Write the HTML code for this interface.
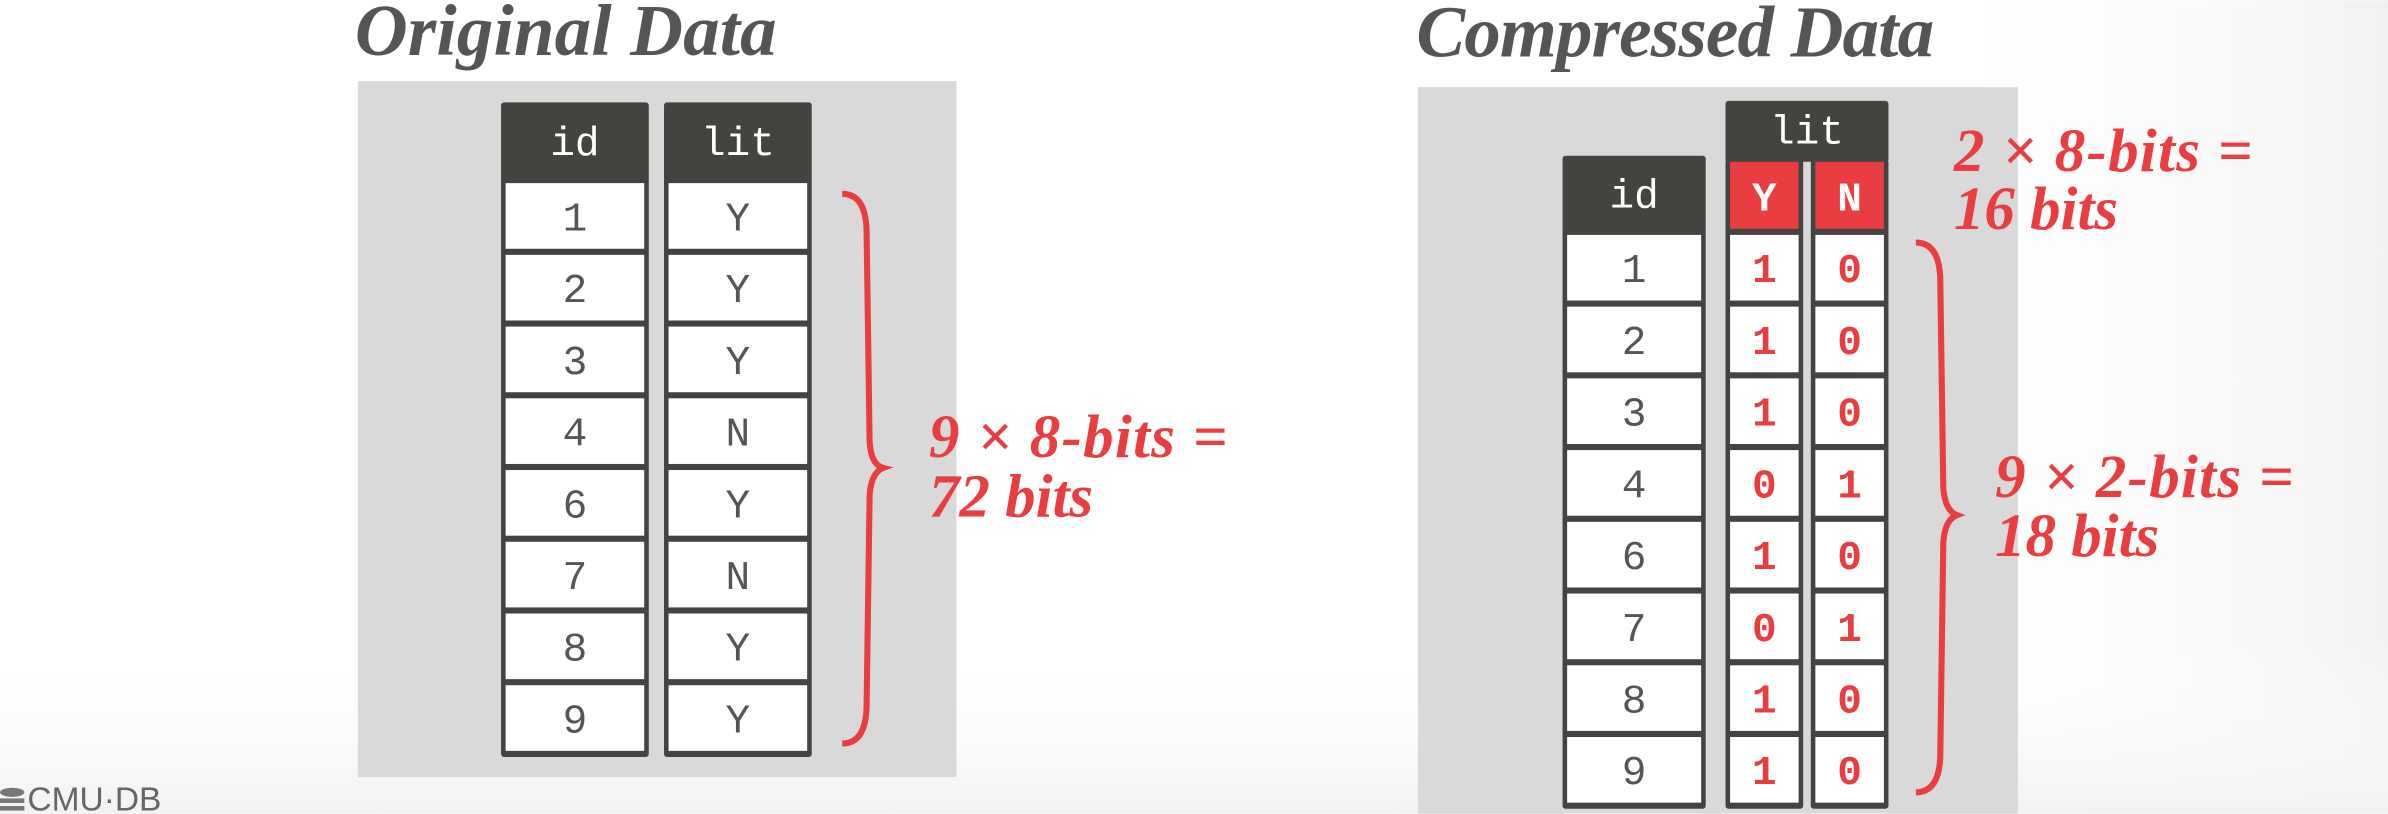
<!DOCTYPE html>
<html><head><meta charset="utf-8"><style>
html,body{margin:0;padding:0;background:#fff;overflow:hidden}
svg{display:block}
.mono{font-family:"Liberation Mono","DejaVu Sans Mono",monospace}
.ser{font-family:"Liberation Serif",serif;font-style:italic;font-weight:bold}
</style></head><body>
<svg id="s" width="2388" height="814" viewBox="0 0 1568 534" xmlns="http://www.w3.org/2000/svg">
<defs>
<linearGradient id="gr" x1="0" x2="1" y1="0" y2="0"><stop offset="0" stop-color="#fff" stop-opacity="0"/><stop offset="1" stop-color="#f1f1f1"/></linearGradient>
<linearGradient id="gb" x1="0" x2="0" y1="0" y2="1"><stop offset="0" stop-color="#fff" stop-opacity="0"/><stop offset="1" stop-color="#f2f2f2"/></linearGradient>
</defs>
<rect width="1568" height="534" fill="#fff"/>
<rect x="1250" y="0" width="318" height="534" fill="url(#gr)"/>
<rect x="0" y="420" width="1568" height="114" fill="url(#gb)"/>
<text class="ser" x="233" y="36" font-size="48" fill="#555" textLength="277">Original Data</text>
<text class="ser" x="930" y="37" font-size="48" fill="#555" textLength="340">Compressed Data</text>
<rect x="235" y="53" width="393" height="457" fill="#d9d9d9"/>
<rect x="931" y="57" width="394" height="477" fill="#d9d9d9"/>
<g id="g"></g>
<path d="M553,127 Q568,127 569,150 L571,290 Q572,305 580,307 Q572,310 571,325 L569,465 Q568,488 553,488" fill="none" stroke="#e83e42" stroke-width="4"/>
<path d="M1258,159 Q1273,159 1274,182 L1276,320 Q1277,335 1285,338 Q1277,341 1276,356 L1274,497 Q1273,520 1258,520" fill="none" stroke="#e83e42" stroke-width="4"/>
<text class="ser" font-size="40" fill="#e83e42"><tspan x="610" y="300" textLength="196">9 × 8-bits =</tspan><tspan x="610" y="339">72 bits</tspan></text>
<text class="ser" font-size="40" fill="#e83e42"><tspan x="1283" y="112" textLength="196">2 × 8-bits =</tspan><tspan x="1283" y="150">16 bits</tspan></text>
<text class="ser" font-size="40" fill="#e83e42"><tspan x="1310" y="326" textLength="196">9 × 2-bits =</tspan><tspan x="1310" y="365">18 bits</tspan></text>
<text x="18" y="532" font-family="Liberation Sans,sans-serif" font-size="22" fill="#666">CMU·DB</text>
<g fill="#777"><ellipse cx="8" cy="520" rx="8" ry="3"/><rect x="0" y="524" width="16" height="3"/><rect x="0" y="529" width="16" height="3"/></g>
</svg>
<script>
var ids=["1","2","3","4","6","7","8","9"];
var lits=["Y","Y","Y","N","Y","N","Y","Y"];
var yBits=["1","1","1","0","1","0","1","1"];
var nBits=["0","0","0","1","0","1","0","0"];
var g=document.getElementById('g');var NS="http://www.w3.org/2000/svg";
function mk(t,a){var e=document.createElementNS(NS,t);for(var k in a)e.setAttribute(k,a[k]);g.appendChild(e);return e;}
function txt(x,y,s,fill,size,bold){var t=mk('text',{x:x,y:y,'text-anchor':'middle','class':'mono','font-size':size,fill:fill,'font-weight':bold?'bold':'normal'});t.textContent=s;return t;}
function column(x,w,top,hdrH,rowTop,vals,color,name,hdrText,bold){
 var bg=mk('rect',{x:x,y:top,width:w,height:rowTop-top+vals.length*47.1+2,fill:'#45433f',rx:2});
 
 
 if(hdrText){var h=txt(x+w/2,top+hdrH/2+9,hdrText,'#fff',27,false);
 
 }
 for(var i=0;i<vals.length;i++){var y=rowTop+i*47.1;
  var r=mk('rect',{x:x+3,y:y+2,width:w-6,height:43.1,fill:'#fff'});
  
  
  var t=txt(x+w/2,y+33,vals[i],color,27,bold);
  
  }
}
column(329,97,67,51,118,ids,'#555','orig-id','id',false);
column(436,97,67,51,118,lits,'#555','orig-lit','lit',false);
column(1026,94,102,50,152,ids,'#555','comp-id','id',false);
var lh=mk('rect',{x:1133,y:66,width:107,height:40,fill:'#45433f',rx:2});


var lt=txt(1186.5,94,'lit','#fff',27,false);


column(1133,51,104,48,152,yBits,'#e83e42','bitmap-y',null,true);
column(1189,51,104,48,152,nBits,'#e83e42','bitmap-n',null,true);
var yh=mk('rect',{x:1136,y:106,width:45,height:44,fill:'#e83e42'});


var nh=mk('rect',{x:1192,y:106,width:45,height:44,fill:'#e83e42'});


var yt=txt(1158.5,138,'Y','#fff',27,true);


var nt=txt(1214.5,138,'N','#fff',27,true);


</script>
</body></html>
